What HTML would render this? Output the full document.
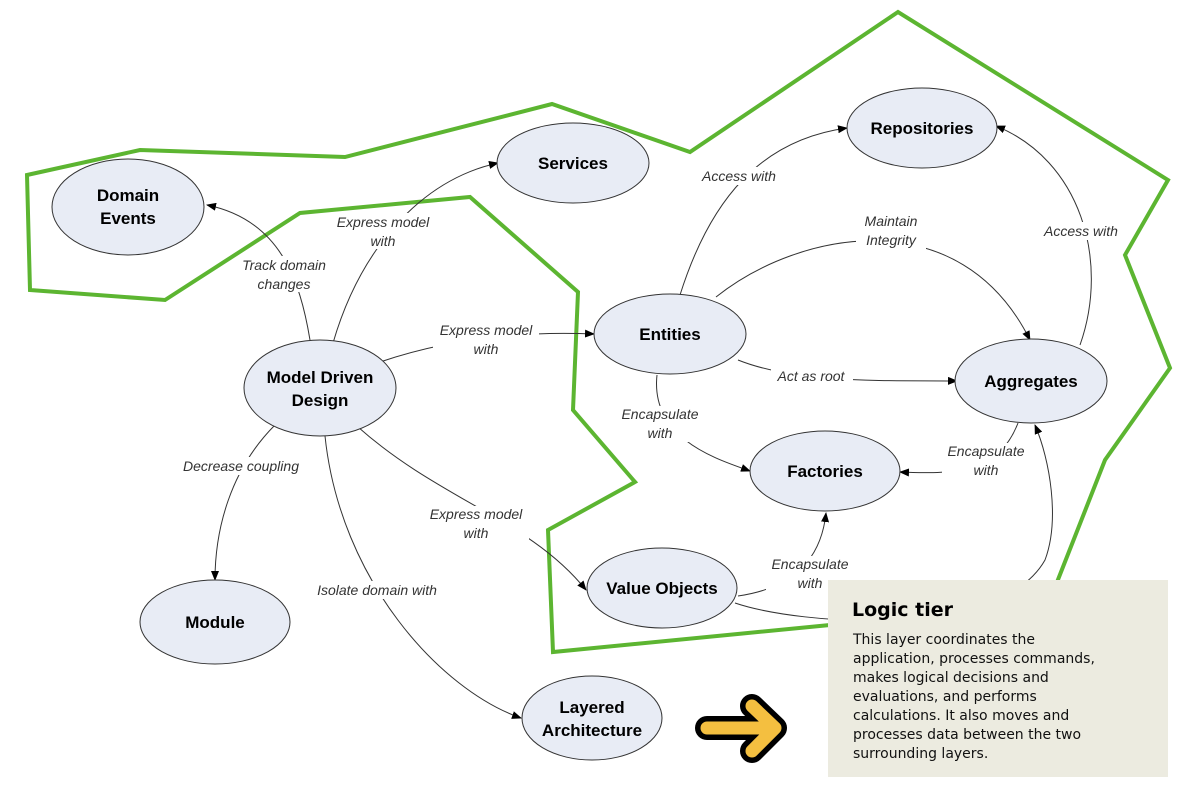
<!DOCTYPE html>
<html><head><meta charset="utf-8"><style>
html,body{margin:0;padding:0;background:#fff;}
svg{display:block;}
.n{fill:#e8ecf5;stroke:#333;stroke-width:1;}
.t{font-family:"Liberation Sans",Arial,sans-serif;font-weight:bold;font-size:17px;fill:#000;text-anchor:middle;}
.l{font-family:"Liberation Sans",Arial,sans-serif;font-style:italic;font-size:14px;fill:#333;text-anchor:middle;}
.e{fill:none;stroke:#333;stroke-width:1;}
.w{fill:#fff;}
</style></head><body>
<svg width="1196" height="790" viewBox="0 0 1196 790" xmlns="http://www.w3.org/2000/svg">
<defs><marker id="a" markerWidth="10" markerHeight="8" refX="9" refY="4" orient="auto" markerUnits="userSpaceOnUse"><path d="M0,0 L10,4 L0,8 z" fill="#000"/></marker></defs>

<polygon points="27,175 140,150 345,157 552,104 690,152 898,12 1168,180 1125,255 1170,368 1105,460 1050,600 830,625 553,652 548,530 635,482 573,410 578,292 470,197 300,213 165,300 30,290" fill="none" stroke="#5cb531" stroke-width="4" stroke-linejoin="miter"/>

<!-- edges -->
<path class="e" d="M310,340 C300,280 280,220 207,205" marker-end="url(#a)"/>
<path class="e" d="M333,343 C360,250 420,180 498,163" marker-end="url(#a)"/>
<path class="e" d="M380,362 C430,345 500,330 594,334" marker-end="url(#a)"/>
<path class="e" d="M275,425 C230,470 215,530 215,580" marker-end="url(#a)"/>
<path class="e" d="M325,436 C340,580 440,690 521,718" marker-end="url(#a)"/>
<path class="e" d="M358,427 C440,500 530,520 586,590" marker-end="url(#a)"/>
<path class="e" d="M680,295 C710,200 760,140 847,128" marker-end="url(#a)"/>
<path class="e" d="M716,297 C800,230 960,200 1030,340" marker-end="url(#a)"/>
<path class="e" d="M738,360 C800,385 900,380 957,381" marker-end="url(#a)"/>
<path class="e" d="M657,375 C650,440 720,460 750,471" marker-end="url(#a)"/>
<path class="e" d="M1018,423 C1000,470 960,475 900,472" marker-end="url(#a)"/>
<path class="e" d="M1080,345 C1110,260 1080,160 996,126" marker-end="url(#a)"/>
<path class="e" d="M738,596 C780,590 820,570 826,513" marker-end="url(#a)"/>
<path class="e" d="M735,603 C800,625 1000,640 1045,560 C1060,520 1050,460 1035,425" marker-end="url(#a)"/>

<!-- labels -->
<rect class="w" x="237" y="256" width="94" height="36"/>
<text class="l" x="284" y="270">Track domain</text><text class="l" x="284" y="289">changes</text>
<rect class="w" x="337" y="213" width="92" height="36"/>
<text class="l" x="383" y="227">Express model</text><text class="l" x="383" y="246">with</text>
<rect class="w" x="433" y="322" width="106" height="36"/>
<text class="l" x="486" y="335">Express model</text><text class="l" x="486" y="354">with</text>
<rect class="w" x="175" y="457" width="132" height="18"/>
<text class="l" x="241" y="471">Decrease coupling</text>
<rect class="w" x="310" y="581" width="136" height="18"/>
<text class="l" x="377" y="595">Isolate domain with</text>
<rect class="w" x="423" y="506" width="106" height="36"/>
<text class="l" x="476" y="519">Express model</text><text class="l" x="476" y="538">with</text>
<rect class="w" x="696" y="167" width="86" height="18"/>
<text class="l" x="739" y="181">Access with</text>
<rect class="w" x="856" y="213" width="70" height="36"/>
<text class="l" x="891" y="226">Maintain</text><text class="l" x="891" y="245">Integrity</text>
<rect class="w" x="771" y="368" width="82" height="18"/>
<text class="l" x="811" y="381">Act as root</text>
<rect class="w" x="616" y="406" width="88" height="36"/>
<text class="l" x="660" y="419">Encapsulate</text><text class="l" x="660" y="438">with</text>
<rect class="w" x="942" y="443" width="88" height="36"/>
<text class="l" x="986" y="456">Encapsulate</text><text class="l" x="986" y="475">with</text>
<rect class="w" x="1038" y="222" width="86" height="18"/>
<text class="l" x="1081" y="236">Access with</text>
<rect class="w" x="766" y="556" width="88" height="36"/>
<text class="l" x="810" y="569">Encapsulate</text><text class="l" x="810" y="588">with</text>

<!-- nodes -->
<ellipse class="n" cx="128" cy="207" rx="76" ry="48"/>
<text class="t" x="128" y="201">Domain</text><text class="t" x="128" y="224">Events</text>
<ellipse class="n" cx="573" cy="163" rx="76" ry="40"/>
<text class="t" x="573" y="169">Services</text>
<ellipse class="n" cx="922" cy="128" rx="75" ry="40"/>
<text class="t" x="922" y="134">Repositories</text>
<ellipse class="n" cx="320" cy="388" rx="76" ry="48"/>
<text class="t" x="320" y="383">Model Driven</text><text class="t" x="320" y="406">Design</text>
<ellipse class="n" cx="670" cy="334" rx="76" ry="40"/>
<text class="t" x="670" y="340">Entities</text>
<ellipse class="n" cx="1031" cy="381" rx="76" ry="42"/>
<text class="t" x="1031" y="387">Aggregates</text>
<ellipse class="n" cx="825" cy="471" rx="75" ry="40"/>
<text class="t" x="825" y="477">Factories</text>
<ellipse class="n" cx="662" cy="588" rx="75" ry="40"/>
<text class="t" x="662" y="594">Value Objects</text>
<ellipse class="n" cx="215" cy="622" rx="75" ry="42"/>
<text class="t" x="215" y="628">Module</text>
<ellipse class="n" cx="592" cy="718" rx="70" ry="42"/>
<text class="t" x="592" y="713">Layered</text><text class="t" x="592" y="736">Architecture</text>

<!-- yellow arrow -->
<g fill="none" stroke-linecap="round" stroke-linejoin="round">
<path d="M707,728 L772,728 M752,706 L775,728 L752,751" stroke="#000" stroke-width="24"/>
<path d="M707,728 L772,728 M752,706 L775,728 L752,751" stroke="#f4bf40" stroke-width="13"/>
</g>

<!-- logic tier box -->
<rect x="828" y="580" width="340" height="197" fill="#ecebe0"/>
<text x="852" y="616" font-family="'DejaVu Sans',sans-serif" font-weight="bold" font-size="19" fill="#000">Logic tier</text>
<g font-family="'DejaVu Sans',sans-serif" font-size="14" fill="#111">
<text x="853" y="644">This layer coordinates the</text>
<text x="853" y="663">application, processes commands,</text>
<text x="853" y="682">makes logical decisions and</text>
<text x="853" y="701">evaluations, and performs</text>
<text x="853" y="720">calculations.  It also moves and</text>
<text x="853" y="739">processes data between the two</text>
<text x="853" y="758">surrounding layers.</text>
</g>
</svg>
</body></html>
